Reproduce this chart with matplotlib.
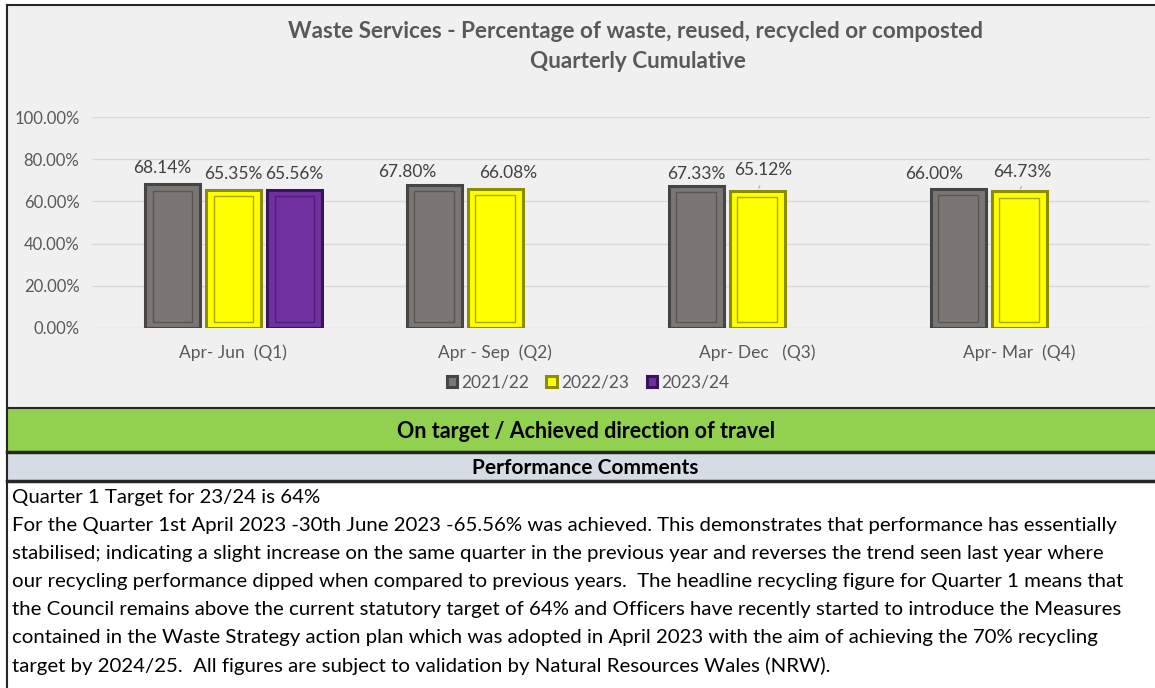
import matplotlib
matplotlib.use("Agg")
import numpy as np
import matplotlib.pyplot as plt
from matplotlib.patches import Rectangle

# --- data ---
quarters = ["Apr- Jun  (Q1)", "Apr - Sep  (Q2)", "Apr- Dec   (Q3)", "Apr- Mar  (Q4)"]
years = ["2021/22", "2022/23", "2023/24"]
vals_2122 = [68.14, 67.80, 67.33, 66.00]
vals_2223 = [65.35, 66.08, 65.12, 64.73]
vals_2324 = [65.56]

title_lines = ["Waste Services - Percentage of waste, reused, recycled or composted",
               "Quarterly Cumulative"]
status_text = "On target / Achieved direction of travel"
comments_header = "Performance Comments"
comment_lines = [
    "Quarter 1 Target for 23/24 is 64%",
    "For the Quarter 1st April 2023 -30th June 2023 -65.56% was achieved. This demonstrates that performance has essentially",
    "stabilised; indicating a slight increase on the same quarter in the previous year and reverses the trend seen last year where",
    "our recycling performance dipped when compared to previous years.  The headline recycling figure for Quarter 1 means that",
    "the Council remains above the current statutory target of 64% and Officers have recently started to introduce the Measures",
    "contained in the Waste Strategy action plan which was adopted in April 2023 with the aim of achieving the 70% recycling",
    "target by 2024/25.  All figures are subject to validation by Natural Resources Wales (NRW).",
]

# label nudges in pixels (Excel had them dragged around a bit)
nudge_2122 = [(-10, 16), (-27, 13), (0, 12), (-24, 15)]
nudge_2223 = [(0, 16), (13, 16), (6, 21), (3, 19)]
nudge_2324 = [(0, 16)]

W, H = 1155, 688
plt.rcParams['font.family'] = ['Lato', 'DejaVu Sans']

fig = plt.figure(figsize=(W / 100, H / 100), dpi=100)
fig.patch.set_facecolor("white")


def fx(x):
    return x / W


def fy(y):
    return 1 - y / H


def band(y0, y1, color):
    fig.patches.append(Rectangle((fx(7), fy(y1)), fx(W) - fx(7), fy(y0) - fy(y1),
                                 transform=fig.transFigure, facecolor=color,
                                 edgecolor="none", zorder=-5))


# chart area and bands
band(5, 408, "#f0f0f0")
band(408, 452, "#92d050")
band(452, 481, "#d6dce4")
band(481, H, "white")
for yy, lw in [(5, 1.5), (408, 1.5), (452, 2.5), (481, 2.5)]:
    fig.add_artist(plt.Line2D([fx(7), 1], [fy(yy), fy(yy)], transform=fig.transFigure,
                              color="#262626", lw=lw))
fig.add_artist(plt.Line2D([fx(7), fx(7)], [fy(5), 0], transform=fig.transFigure,
                          color="#262626", lw=1.5))

# title
fig.text(fx(636), fy(32), title_lines[0], ha="center", va="center",
         fontsize=16.2, fontweight="bold", color="#595959")
fig.text(fx(638), fy(62), title_lines[1], ha="center", va="center",
         fontsize=16.2, fontweight="bold", color="#595959")

# axes
ax = fig.add_axes([fx(92), fy(328), fx(1150) - fx(92), (328 - 117) / H])
ax.set_facecolor("none")
x = np.arange(len(quarters))
bw = 0.21
off = 0.233

series = [
    (vals_2122, -off, "#7a7674", "#454545", "#5a5654", nudge_2122),
    (vals_2223, 0.0, "#ffff00", "#8c8c00", "#a8a800", nudge_2223),
    (vals_2324, off, "#7030a0", "#3a145a", "#4e1f75", nudge_2324),
]
handles = []
for (vals, dx, face, edge, inner, nudges), lab in zip(series, years):
    pos = x[:len(vals)] + dx
    b = ax.bar(pos, vals, width=bw, color=face, edgecolor=edge, linewidth=2.2,
               label=lab, zorder=3)
    # inner bevel outline
    ax.bar(pos, np.array(vals) - 6, width=bw * 0.72, bottom=3, color="none",
           edgecolor=inner, linewidth=1.0, zorder=4)
    handles.append(b)
    for p, v, (nx, ny) in zip(pos, vals, nudges):
        ax.annotate(f"{v:.2f}%", (p, v), xytext=(nx, ny), textcoords="offset pixels",
                    ha="center", va="center", fontsize=12.5, color="#404040")
        if ny > 17:  # leader line for labels pulled away from the bar
            ax.annotate("", (p, v), xytext=(p + nx * 0.0006 + 0.012, v + 3.4),
                        arrowprops=dict(arrowstyle="-", color="#a6a6a6", lw=0.8))

ax.set_xlim(-0.54, 3.5)
ax.set_ylim(0, 100)
ax.set_yticks(np.arange(0, 101, 20))
ax.set_yticklabels([f"{t:.2f}%" for t in np.arange(0, 101, 20)])
ax.set_xticks(x)
ax.set_xticklabels(quarters)
ax.tick_params(axis="both", length=0, labelsize=12.5, colors="#595959")
ax.tick_params(axis="y", labelsize=12)
ax.tick_params(axis="x", pad=12)
ax.tick_params(axis="y", pad=9)
ax.grid(axis="y", color="#d9d9d9", lw=1.0, zorder=0)
for s in ax.spines.values():
    s.set_visible(False)

fig.legend(handles=handles, labels=years, loc="center", ncol=3,
           bbox_to_anchor=(fx(588), fy(383)), frameon=False, fontsize=12.5,
           handlelength=0.6, handleheight=0.6, handletextpad=0.25, columnspacing=1.0,
           labelcolor="#595959")

# status bands
fig.text(fx(586), fy(431), status_text, ha="center", va="center",
         fontsize=15.5, fontweight="bold", color="black")
fig.text(fx(585), fy(468), comments_header, ha="center", va="center",
         fontsize=15, fontweight="bold", color="black")

# comments
for k, line in enumerate(comment_lines):
    fig.text(fx(12), fy(497 + 28.2 * k), line, ha="left", va="center",
             fontsize=14.7, color="black")

fig.savefig("out.png", dpi=100, facecolor=fig.get_facecolor())
